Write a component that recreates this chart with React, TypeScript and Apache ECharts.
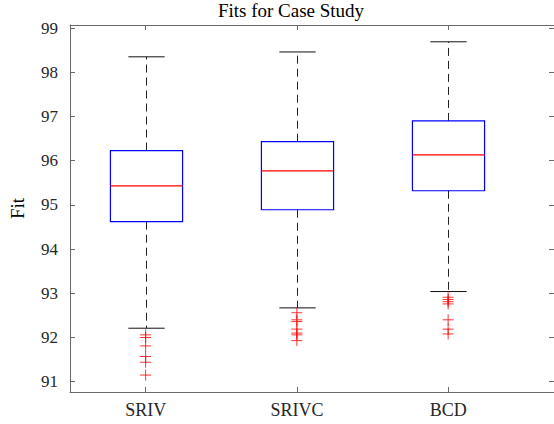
import React, { useEffect, useRef } from "react";
import * as echarts from "echarts";

const categories = ["SRIV", "SRIVC", "BCD"];
const positions = [1, 2, 3];
const whiskerLow = [92.21, 92.67, 93.04];
const q1 = [94.62, 94.89, 95.32];
const median = [95.43, 95.77, 96.13];
const q3 = [96.23, 96.43, 96.9];
const whiskerHigh = [98.35, 98.46, 98.69];
const outliersSRIV = [92.06, 92.0, 91.81, 91.57, 91.44, 91.15];
const outliersSRIVC = [92.56, 92.4, 92.36, 92.19, 92.1, 92.06, 91.93];
const outliersBCD = [92.91, 92.86, 92.81, 92.76, 92.4, 92.19, 92.08];
const yTicks = [91, 92, 93, 94, 95, 96, 97, 98, 99];

const FONT = "'Liberation Serif', 'Times New Roman', serif";
const AXIS_COLOR = "#6a6a6a";
const TEXT_COLOR = "#262626";

export default function App() {
  const ref = useRef<HTMLDivElement>(null);
  useEffect(() => {
    if (!ref.current) return;
    const chart = echarts.init(ref.current, null, { renderer: "svg" });
    const boxData = positions.map((p, i) => [
      p,
      whiskerLow[i],
      q1[i],
      median[i],
      q3[i],
      whiskerHigh[i],
    ]);
    const outlierData: number[][] = [];
    [outliersSRIV, outliersSRIVC, outliersBCD].forEach((arr, i) =>
      arr.forEach((v) => outlierData.push([positions[i], v]))
    );
    const xMin = 0.5;
    const xMax = 3.7;
    const yMin = 90.767;
    const yMax = 99.07;
    const commonX = {
      type: "value",
      min: xMin,
      max: xMax,
      splitLine: { show: false },
      axisLine: { show: true, onZero: false, lineStyle: { color: AXIS_COLOR, width: 1 } },
      axisTick: {
        show: true,
        inside: true,
        length: 5,
        customValues: positions,
        lineStyle: { color: AXIS_COLOR },
      },
    };
    const commonY = {
      type: "value",
      min: yMin,
      max: yMax,
      splitLine: { show: false },
      axisLine: { show: true, onZero: false, lineStyle: { color: AXIS_COLOR, width: 1 } },
      axisTick: {
        show: true,
        inside: true,
        length: 5,
        customValues: yTicks,
        lineStyle: { color: AXIS_COLOR },
      },
    };
    chart.setOption({
      animation: false,
      backgroundColor: "#ffffff",
      grid: { left: 58, right: -1, top: 25, bottom: 32, containLabel: false },
      graphic: [
        {
          type: "text",
          x: 291,
          y: 10,
          style: {
            text: "Fits for Case Study",
            align: "center",
            verticalAlign: "middle",
            fontFamily: FONT,
            fontSize: 19,
            fill: "#000",
          },
        },
      ],
      xAxis: [
        {
          ...commonX,
          position: "bottom",
          axisLabel: {
            show: true,
            customValues: positions,
            formatter: (v: number) => categories[positions.indexOf(Math.round(v))] ?? "",
            fontFamily: FONT,
            fontSize: 18,
            color: TEXT_COLOR,
            margin: 9,
          },
        },
        { ...commonX, position: "top", axisLabel: { show: false } },
      ],
      yAxis: [
        {
          ...commonY,
          position: "left",
          name: "Fit",
          nameLocation: "middle",
          nameRotate: 90,
          nameGap: 43,
          nameTextStyle: { fontFamily: FONT, fontSize: 19, color: "#000" },
          axisLabel: {
            show: true,
            customValues: yTicks,
            formatter: (v: number) => String(Math.round(v)),
            fontFamily: FONT,
            fontSize: 17,
            color: TEXT_COLOR,
            margin: 12,
          },
        },
        { ...commonY, position: "right", axisLabel: { show: false } },
      ],
      series: [
        {
          type: "custom",
          xAxisIndex: 0,
          yAxisIndex: 0,
          data: boxData,
          encode: { x: 0, y: [1, 2, 3, 4, 5] },
          renderItem: (params: any, api: any) => {
            const x = api.value(0);
            const lo = api.coord([x, api.value(1)]);
            const b1 = api.coord([x, api.value(2)]);
            const md = api.coord([x, api.value(3)]);
            const b3 = api.coord([x, api.value(4)]);
            const hi = api.coord([x, api.value(5)]);
            const halfW = api.size([0.477, 0])[0] / 2;
            const capHalf = api.size([0.24, 0])[0] / 2;
            const cx = Math.round(lo[0]) + 0.5;
            const dashed = {
              stroke: "#222",
              lineWidth: 1,
              lineDash: [8, 5],
              fill: "none",
            };
            const solid = { stroke: "#111", lineWidth: 1, fill: "none" };
            return {
              type: "group",
              children: [
                { type: "line", shape: { x1: cx, y1: b3[1], x2: cx, y2: hi[1] }, style: dashed },
                { type: "line", shape: { x1: cx, y1: b1[1], x2: cx, y2: lo[1] }, style: dashed },
                {
                  type: "line",
                  shape: { x1: cx - capHalf, y1: hi[1], x2: cx + capHalf, y2: hi[1] },
                  style: solid,
                },
                {
                  type: "line",
                  shape: { x1: cx - capHalf, y1: lo[1], x2: cx + capHalf, y2: lo[1] },
                  style: solid,
                },
                {
                  type: "rect",
                  shape: { x: cx - halfW, y: b3[1], width: halfW * 2, height: b1[1] - b3[1] },
                  style: { stroke: "#0000ff", lineWidth: 1.2, fill: "none" },
                },
                {
                  type: "line",
                  shape: { x1: cx - halfW, y1: md[1], x2: cx + halfW, y2: md[1] },
                  style: { stroke: "#ff0000", lineWidth: 1.2, fill: "none" },
                },
              ],
            };
          },
        },
        {
          type: "scatter",
          xAxisIndex: 0,
          yAxisIndex: 0,
          data: outlierData,
          symbol: "path://M0,5L10,5M5,0L5,10",
          symbolSize: 11,
          itemStyle: { color: "none", borderColor: "#ff0000", borderWidth: 1 },
        },
      ],
    });
    return () => chart.dispose();
  }, []);
  return (
    <div
      ref={ref}
      style={{ position: "fixed", left: 0, top: 0, width: 554, height: 424 }}
    />
  );
}
